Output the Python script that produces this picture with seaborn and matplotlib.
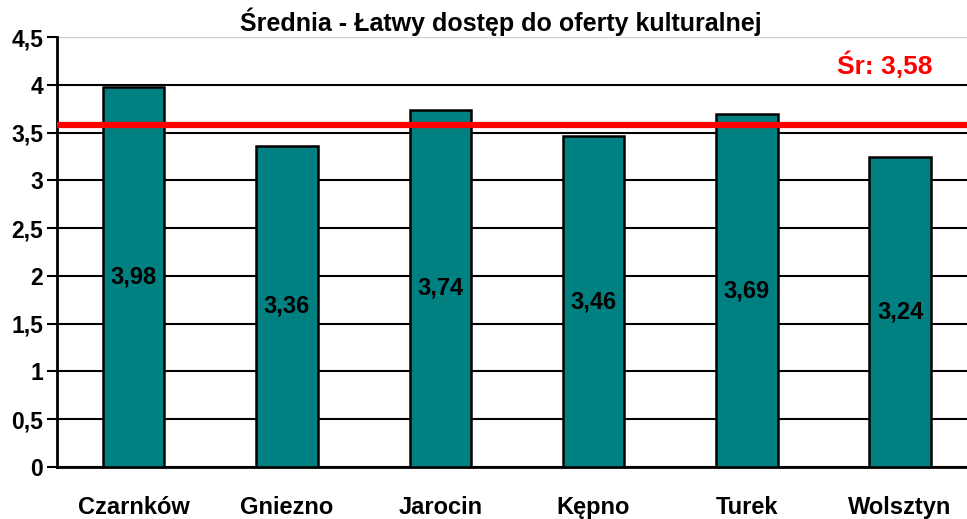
import seaborn as sns
import numpy as np
import pandas as pd
import matplotlib.pyplot as plt
from matplotlib.ticker import FuncFormatter

towns = ['Czarnków', 'Gniezno', 'Jarocin', 'Kępno', 'Turek', 'Wolsztyn']
means = [3.98, 3.36, 3.74, 3.46, 3.69, 3.24]
overall = 3.58
title = 'Średnia - Łatwy dostęp do oferty kulturalnej'

df = pd.DataFrame({'town': towns, 'mean': means})

sns.set_style('white')
plt.rcParams['font.family'] = ['Liberation Sans', 'DejaVu Sans']
plt.rcParams['font.weight'] = 'bold'
plt.rcParams['text.color'] = 'black'
plt.rcParams['xtick.color'] = 'black'
plt.rcParams['ytick.color'] = 'black'

fig = plt.figure(figsize=(9.67, 5.19), dpi=100)
ax = fig.add_axes([57/967, 52/519, 6*153.3/967, 430/519])

sns.barplot(x='town', y='mean', data=df, color='#008080', saturation=1,
            width=0.4, edgecolor='black', linewidth=1.8, ax=ax, zorder=3)

ax.set_xlim(-0.5, 5.5)
ax.set_ylim(0, 4.5)
ax.set_yticks(np.arange(0, 4.51, 0.5))
ax.yaxis.set_major_formatter(FuncFormatter(lambda v, p: ('%g' % v).replace('.', ',')))
ax.grid(axis='y', color='black', linewidth=1.5, zorder=0)
ax.set_axisbelow(True)
ax.yaxis.get_gridlines()[-1].set_color('#d0d0d0')
ax.yaxis.get_gridlines()[-1].set_linewidth(1)

ax.set_xlabel('')
ax.set_ylabel('')
ax.tick_params(axis='x', which='major', length=0, pad=21, labelsize=17, labelcolor='black')
ax.set_xticks(np.arange(-0.5, 5.6, 1), minor=True)
ax.tick_params(axis='x', which='minor', length=7, width=1.5, color='black', direction='out')
ax.tick_params(axis='y', length=7, width=1.5, color='black', direction='out', left=True,
               labelsize=16.5, pad=3, labelcolor='black')
for lab in ax.get_xticklabels() + ax.get_yticklabels():
    lab.set_fontweight('bold')

for s in ['top', 'right']:
    ax.spines[s].set_visible(False)
for s in ['left', 'bottom']:
    ax.spines[s].set_color('black')
    ax.spines[s].set_linewidth(2)

for i, v in enumerate(means):
    ax.text(i, v / 2, ('%.2f' % v).replace('.', ','), ha='center', va='center',
            fontsize=17, fontweight='bold', color='black', zorder=5)

ax.axhline(overall, color='#ff0000', linewidth=4.5, zorder=4)
fig.text(885/967, 1 - 65/519, 'Śr: ' + ('%.2f' % overall).replace('.', ','),
         ha='center', va='center', color='#ff0000', fontsize=19, fontweight='bold')
fig.text(501/967, 1 - 22/519, title, ha='center', va='center', fontsize=18,
         fontweight='bold', color='black')

fig.savefig('out.png', dpi=100)
